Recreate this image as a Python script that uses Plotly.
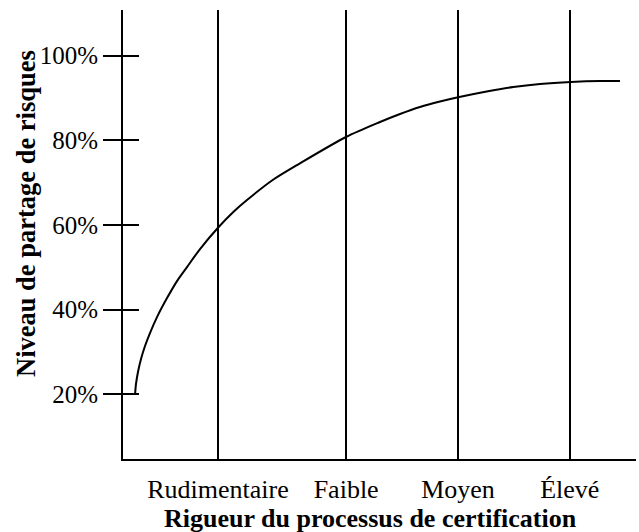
import plotly.graph_objects as go

# Category labels on the rigour axis and where they sit (0-100 rigour scale)
categories = ["Rudimentaire", "Faible", "Moyen", "Élevé"]
category_positions = [18.5, 43.5, 65.3, 87.1]

# Risk-sharing curve (rigour scale 0-100 vs. % of risk sharing)
rigueur = [2.34, 2.53, 2.92, 3.51, 4.29, 5.26, 6.63, 8.58, 10.53, 12.48, 15.01,
           18.65, 21.50, 24.11, 29.04, 34.50, 43.47, 50.10, 54.0, 57.89, 61.79,
           65.56, 70.90, 76.08, 81.29, 87.33, 92.98, 96.88]
partage = [19.86, 22.45, 25.29, 28.36, 31.43, 34.50, 38.25, 42.74, 46.76, 50.07,
           54.32, 59.53, 63.07, 65.83, 70.51, 74.56, 80.78, 84.32, 86.21, 87.86,
           89.16, 90.22, 91.52, 92.58, 93.29, 93.77, 94.0, 94.0]

y_ticks = [20, 40, 60, 80, 100]
y_tick_labels = ["20%", "40%", "60%", "80%", "100%"]

x_title = "Rigueur du processus de certification"
y_title = "Niveau de partage de risques"

FONT = "Liberation Serif, Times New Roman, serif"
Y_RANGE = [4.75, 110.77]

fig = go.Figure()
fig.add_trace(go.Scatter(
    x=rigueur, y=partage, mode="lines",
    line=dict(color="black", width=2, shape="spline", smoothing=0.8),
    showlegend=False, hoverinfo="skip",
))
fig.add_trace(go.Scatter(x=[None], y=[None], yaxis="y2", showlegend=False,
                         hoverinfo="skip"))

fig.update_layout(
    width=639, height=532,
    margin=dict(l=123, r=3, t=10, b=73),
    paper_bgcolor="white", plot_bgcolor="white",
    font=dict(family=FONT, color="black"),
    xaxis=dict(
        range=[0, 100], tickvals=category_positions, ticktext=categories,
        ticks="outside", ticklen=6, tickcolor="rgba(0,0,0,0)",
        tickfont=dict(size=26, family=FONT, color="black"),
        showgrid=True, gridcolor="black", gridwidth=2,
        showline=True, linecolor="black", linewidth=2,
        zeroline=False, fixedrange=True,
    ),
    yaxis=dict(
        range=Y_RANGE, tickvals=y_ticks, ticktext=y_tick_labels,
        ticks="outside", ticklen=18, tickwidth=2, tickcolor="black",
        tickfont=dict(size=25, family=FONT, color="black"),
        showgrid=False, zeroline=False,
        showline=True, linecolor="black", linewidth=2, fixedrange=True,
    ),
    yaxis2=dict(
        range=Y_RANGE, overlaying="y", side="left", tickvals=y_ticks,
        ticks="inside", ticklen=16, tickwidth=2, tickcolor="black",
        showticklabels=False, showgrid=False, zeroline=False, showline=False,
        fixedrange=True,
    ),
    annotations=[
        dict(text="<b>" + x_title + "</b>", xref="paper", yref="paper",
             x=(370 - 123) / 513, y=-59 / 449, xanchor="center", yanchor="middle",
             showarrow=False, font=dict(size=26, family=FONT, color="black")),
        dict(text="<b>" + y_title + "</b>", xref="paper", yref="paper",
             x=-(123 - 26) / 513, y=(459 - 214) / 449, xanchor="center",
             yanchor="middle", textangle=-90, showarrow=False,
             font=dict(size=26.5, family=FONT, color="black")),
    ],
)

fig.write_html("out.html",
               config={"displayModeBar": False, "staticPlot": True},
               post_script="document.body.style.margin='0';"
                           "document.body.style.overflow='hidden';")
